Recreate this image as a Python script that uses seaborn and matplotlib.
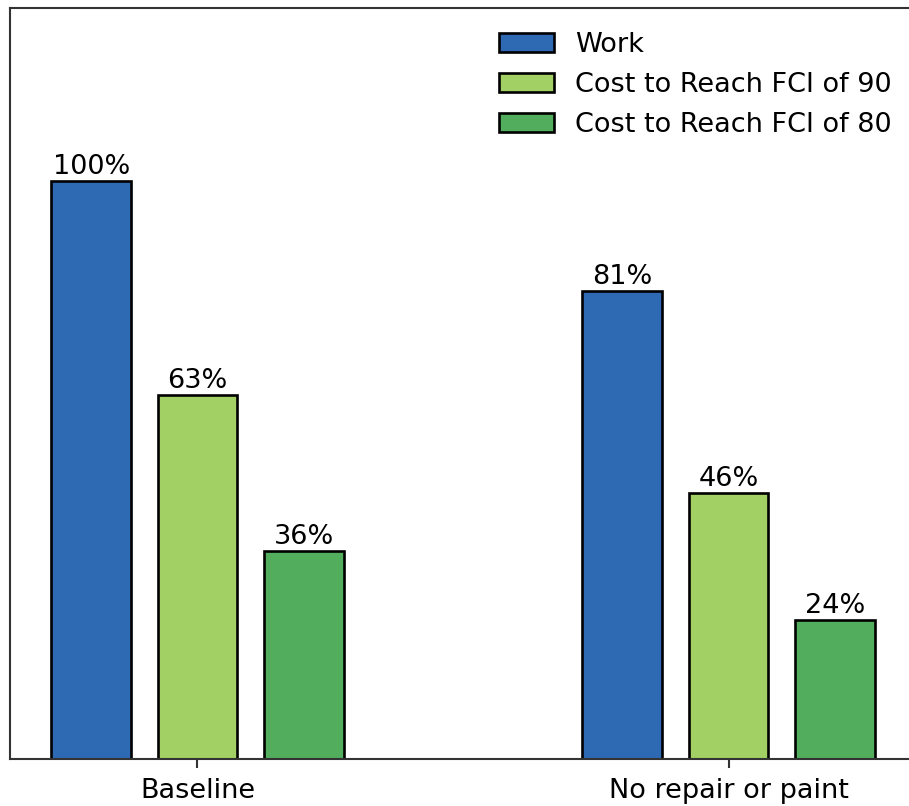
import pandas as pd
import matplotlib
matplotlib.use("Agg")
import matplotlib.pyplot as plt
import seaborn as sns

# ─── Données ────────────────────────────────────────────────────────────────
groups = ["Baseline", "No repair or paint"]
series = ["Work", "Cost to Reach FCI of 90", "Cost to Reach FCI of 80"]
work_vals = [100, 81]
fci90_vals = [63, 46]
fci80_vals = [36, 24]
colors = ["#2E6AB3", "#A2D064", "#52AE5D"]

df = pd.DataFrame({
    "group": groups * 3,
    "series": [series[0]] * 2 + [series[1]] * 2 + [series[2]] * 2,
    "value": work_vals + fci90_vals + fci80_vals,
})

# ─── Style ──────────────────────────────────────────────────────────────────
sns.set_style("white")
plt.rcParams.update({
    "font.family": ["DejaVu Sans"],
    "text.color": "black",
    "xtick.color": "black",
    "xtick.labelcolor": "black",
})
FS = 19.5

fig = plt.figure(figsize=(9.09, 8.06), dpi=100)
ax = fig.add_axes([0.011, 0.0583, 0.9967, 0.9318])

sns.barplot(data=df, x="group", y="value", hue="series", order=groups,
            hue_order=series, palette=colors, width=0.6, gap=0.25,
            edgecolor="black", linewidth=1.9, saturation=1, ax=ax)

for cont in ax.containers:
    ax.bar_label(cont, fmt="%.0f%%", fontsize=FS, padding=1, color="black")

ax.set_xlim(-0.353, 1.353)
ax.set_ylim(0, 130)
ax.set_yticks([])
ax.set_xlabel("")
ax.set_ylabel("")
ax.tick_params(axis="x", labelsize=FS, length=6.8, width=1.5, color="#333333",
               labelcolor="black", bottom=True, pad=7)
for sp in ax.spines.values():
    sp.set_visible(True)
    sp.set_linewidth(1.5)
    sp.set_color("#333333")

handles, labels = ax.get_legend_handles_labels()
leg = ax.legend(handles, labels, loc="upper left", bbox_to_anchor=(0.5226, 0.990),
                bbox_transform=fig.transFigure, frameon=False, fontsize=FS)
for t in leg.get_texts():
    t.set_color("black")

fig.savefig("out.png", dpi=100)
